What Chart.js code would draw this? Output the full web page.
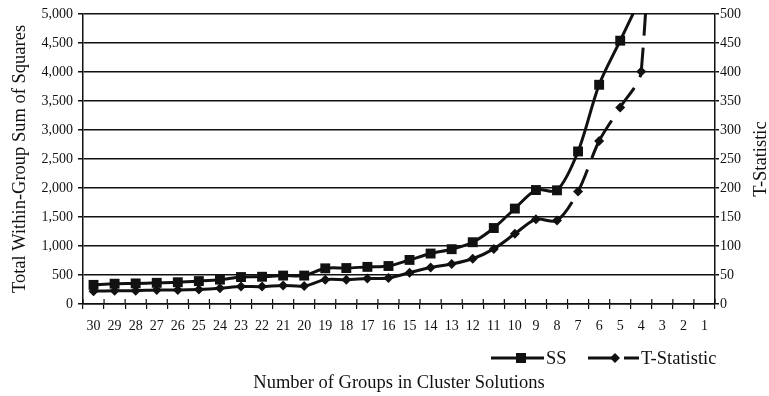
<!DOCTYPE html>
<html lang="en">
<head>
<meta charset="UTF-8">
<title>Within-Group Sum of Squares</title>
<style>
    body { margin: 0; background: #fff; }
    #wrap { width: 769px; height: 396px; }
</style>
</head>
<body>
<div id="wrap"><canvas id="chart"></canvas></div>

<script src="https://cdn.jsdelivr.net/npm/chart.js"></script>
<script>
// Data
const groups = ['30','29','28','27','26','25','24','23','22','21','20','19','18','17','16',
                '15','14','13','12','11','10','9','8','7','6','5','4','3','2','1'];
const ssValues = [330, 350, 355, 365, 375, 395, 420, 465, 470, 490, 490, 615, 620, 640, 655,
                  760, 870, 945, 1065, 1310, 1645, 1965, 1960, 2630, 3780, 4540, 5300, null, null, null];
const tValues = [22, 23, 23, 24, 24, 25, 27, 30, 30, 32, 31, 42, 42, 44, 45,
                 54, 63, 69, 78, 95, 121, 146, 144, 194, 281, 339, 401, 1200, null, null];
const ssTicks = { min: 0, max: 5000, step: 500 };
const tTicks = { min: 0, max: 500, step: 50 };

const serif = "'Liberation Serif', 'Times New Roman', serif";
const ink = '#111';
const longDash = [24, 12];

// tick marks crossing the x axis, right-hand title and the legend
const extras = {
    id: 'extras',
    afterDraw(chart) {
        const ctx = chart.ctx;
        const area = chart.chartArea;
        const x = chart.scales.x;
        ctx.save();
        ctx.strokeStyle = ink;
        ctx.lineWidth = 1.2;
        for (let i = 0; i <= groups.length; i++) {
            const px = x.left + i * (x.width / groups.length);
            ctx.beginPath();
            ctx.moveTo(px, area.bottom - 5);
            ctx.lineTo(px, area.bottom);
            ctx.stroke();
        }

        // right axis title, reading bottom to top
        ctx.fillStyle = ink;
        ctx.font = '18.5px ' + serif;
        ctx.textAlign = 'center';
        ctx.textBaseline = 'middle';
        ctx.translate(761, (area.top + area.bottom) / 2);
        ctx.rotate(-Math.PI / 2);
        ctx.fillText('T-Statistic', 0, 0);
        ctx.restore();

        // legend
        const ly = 358;
        ctx.save();
        ctx.strokeStyle = ink;
        ctx.fillStyle = ink;
        ctx.lineWidth = 3;
        ctx.beginPath();
        ctx.moveTo(491, ly);
        ctx.lineTo(544, ly);
        ctx.stroke();
        ctx.fillRect(521 - 5, ly - 5, 10, 10);

        ctx.setLineDash(longDash);
        ctx.beginPath();
        ctx.moveTo(588, ly);
        ctx.lineTo(639, ly);
        ctx.stroke();
        ctx.setLineDash([]);
        ctx.beginPath();
        ctx.moveTo(615, ly - 5);
        ctx.lineTo(620, ly);
        ctx.lineTo(615, ly + 5);
        ctx.lineTo(610, ly);
        ctx.closePath();
        ctx.fill();

        ctx.font = '18.5px ' + serif;
        ctx.textAlign = 'left';
        ctx.textBaseline = 'middle';
        ctx.fillText('SS', 546, ly + 1);
        ctx.fillText('T-Statistic', 641, ly + 1);
        ctx.restore();
    }
};

const ctx = document.getElementById('chart').getContext('2d');
const chart = new Chart(ctx, {
    type: 'line',
    data: {
        labels: groups,
        datasets: [{
            label: 'SS',
            data: ssValues,
            yAxisID: 'y',
            borderColor: ink,
            backgroundColor: ink,
            borderWidth: 3,
            pointStyle: 'rect',
            pointRadius: 7,
            pointBorderWidth: 0,
            tension: 0.3
        }, {
            label: 'T-Statistic',
            data: tValues,
            yAxisID: 'y2',
            borderColor: ink,
            backgroundColor: ink,
            borderWidth: 3,
            borderDash: longDash,
            // restart the dash pattern at every point, like the original
            segment: { borderDashOffset: c => (c.p0DataIndex % 2 ? 0 : 0.001) },
            pointStyle: 'rectRot',
            pointRadius: 5,
            pointBorderWidth: 0,
            tension: 0.3
        }]
    },
    options: {
        responsive: true,
        maintainAspectRatio: false,
        animation: false,
        layout: { padding: { top: 14, left: 0, right: 0, bottom: 0 } },
        plugins: {
            legend: { display: false },
            tooltip: { enabled: false }
        },
        scales: {
            x: {
                offset: true,
                grid: { display: true, drawOnChartArea: false, tickLength: 5, color: ink, lineWidth: 1.2, offset: true },
                border: { color: ink, width: 1.5 },
                ticks: { color: ink, font: { family: serif, size: 14 }, padding: 9, maxRotation: 0, autoSkip: false },
                title: { display: true, text: 'Number of Groups in Cluster Solutions', color: ink,
                         font: { family: serif, size: 18.5 }, padding: { top: 0, bottom: 2 } },
                afterFit(scale) { scale.height = 92; }
            },
            y: {
                position: 'left',
                min: ssTicks.min,
                max: ssTicks.max,
                grid: { color: ink, lineWidth: 1.5, tickLength: 5 },
                border: { color: ink, width: 1.5 },
                ticks: {
                    stepSize: ssTicks.step, color: ink, padding: 5,
                    font: { family: serif, size: 14 },
                    callback: v => v.toLocaleString('en-US')
                },
                title: { display: true, text: 'Total Within-Group Sum of Squares', color: ink,
                         font: { family: serif, size: 18.5 }, padding: { top: 9, bottom: 0 } },
                afterFit(scale) { scale.width = 83; }
            },
            y2: {
                position: 'right',
                min: tTicks.min,
                max: tTicks.max,
                grid: { drawOnChartArea: false, color: ink, lineWidth: 1.5, tickLength: 4 },
                border: { color: ink, width: 1.5 },
                ticks: { stepSize: tTicks.step, color: ink, padding: 1, font: { family: serif, size: 14 } },
                afterFit(scale) { scale.width = 54; }
            }
        }
    },
    plugins: [extras]
});
</script>
</body>
</html>
